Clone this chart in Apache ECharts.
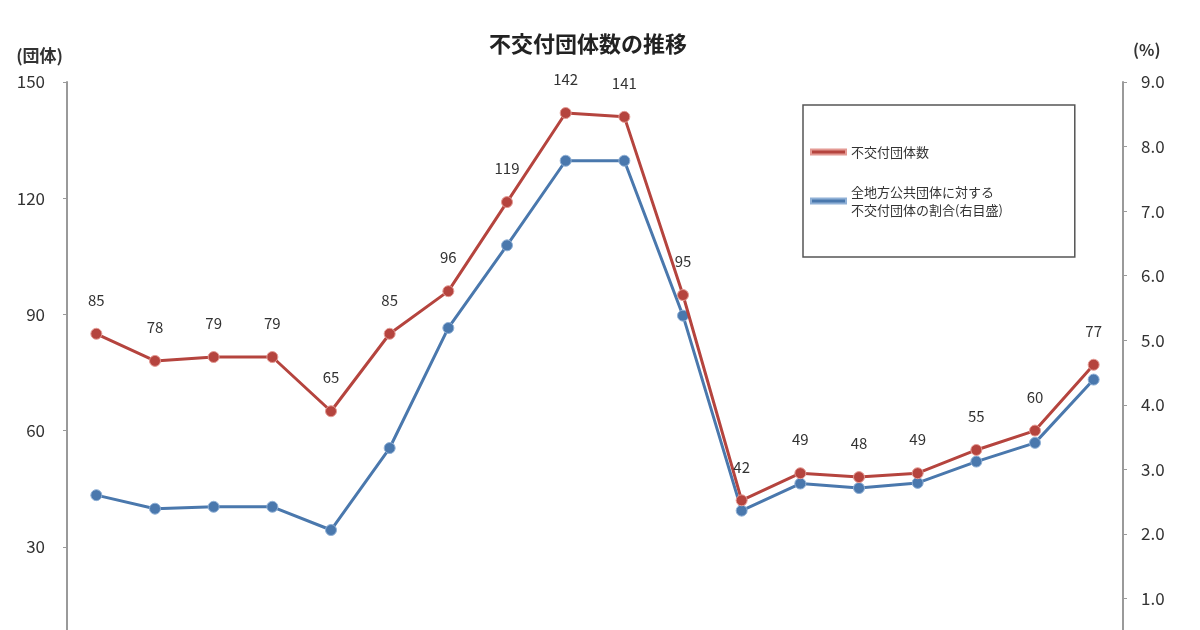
<!DOCTYPE html>
<html><head><meta charset="utf-8">
<script src="https://cdn.jsdelivr.net/npm/echarts@6/dist/echarts.min.js"></script>
<style>html,body{margin:0;padding:0;background:#fff}#c{width:1200px;height:630px}</style>
</head><body><div id="c"></div>
<script>
const categories = ['H12','H13','H14','H15','H16','H17','H18','H19','H20','H21','H22','H23','H24','H25','H26','H27','H28','H29'];
const countValues = [85,78,79,79,65,85,96,119,142,141,95,42,49,48,49,55,60,77];
const ratioValues = [2.60,2.39,2.42,2.42,2.06,3.33,5.19,6.47,7.78,7.78,5.38,2.36,2.78,2.71,2.79,3.12,3.41,4.39];
const seriesNames = ['不交付団体数','全地方公共団体に対する\n不交付団体の割合(右目盛)'];
const titleText = '不交付団体数の推移';

const FONT = '"Noto Sans CJK JP", sans-serif';
const chart = echarts.init(document.getElementById('c'));
chart.setOption({
  backgroundColor:'#fff',
  animation:false,
  textStyle:{fontFamily:FONT},
  title:{text:titleText,left:583,top:28,textAlign:'center',
    textStyle:{fontSize:22,fontWeight:'bold',color:'#222',fontFamily:FONT}},
  legend:{
    orient:'vertical',left:803,top:105,
    padding:[38,72,38,7],itemGap:22,
    borderColor:'#555',borderWidth:1.5,
    itemWidth:35,itemHeight:5,icon:'rect',
    textStyle:{fontSize:13,color:'#333',lineHeight:18,fontFamily:FONT},
    data:seriesNames.map(n=>({name:n,icon:'rect'}))
  },
  grid:{left:67,top:82,width:1056,height:581,outerBoundsMode:'none',containLabel:false},
  xAxis:{type:'category',data:categories,boundaryGap:true,show:false},
  yAxis:[
    {type:'value',min:0,max:150,interval:30,name:'(団体)',nameLocation:'end',
     nameGap:18,nameTextStyle:{align:'right',padding:[0,4,0,0],fontSize:17,fontWeight:'bold',color:'#333'},
     axisLine:{show:true,lineStyle:{color:'#9a9a9a',width:2}},
     axisTick:{show:true,length:4,lineStyle:{color:'#9a9a9a'}},
     axisLabel:{fontSize:17,color:'#333',margin:22,fontFamily:FONT},
     splitLine:{show:false}},
    {type:'value',min:0,max:9,interval:1,name:'(%)',nameLocation:'end',
     nameGap:24,nameTextStyle:{align:'left',padding:[0,0,0,10],fontSize:16,fontWeight:'bold',color:'#333'},
     axisLine:{show:true,lineStyle:{color:'#9a9a9a',width:2}},
     axisTick:{show:true,length:4,lineStyle:{color:'#9a9a9a'}},
     axisLabel:{fontSize:17,color:'#333',margin:18,fontFamily:FONT,formatter:v=>v.toFixed(1)},
     splitLine:{show:false}}
  ],
  series:[
    {name:seriesNames[0],type:'line',yAxisIndex:0,data:countValues,
     symbol:'circle',symbolSize:11,
     lineStyle:{color:'#b5443e',width:3},
     itemStyle:{color:'#b5443e',borderColor:'#e49a94',borderWidth:1},
     label:{show:true,position:'top',distance:20,fontSize:15,color:'#333',fontFamily:FONT},
     z:3},
    {name:seriesNames[1],type:'line',yAxisIndex:1,data:ratioValues,
     symbol:'circle',symbolSize:11,
     lineStyle:{color:'#4a78ad',width:3},
     itemStyle:{color:'#4a78ad',borderColor:'#8fb0d6',borderWidth:1},
     z:2}
  ]
});
</script></body></html>
